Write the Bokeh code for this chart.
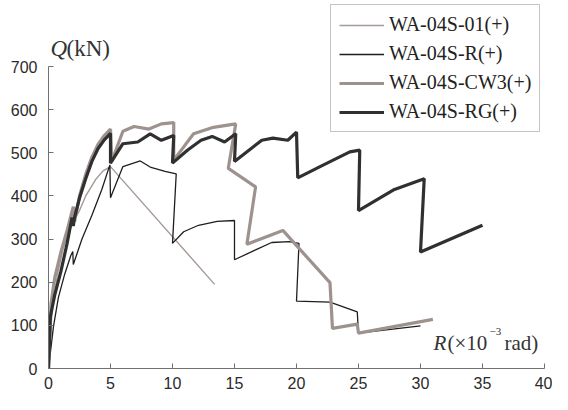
from bokeh.plotting import figure
from bokeh.models import Label, Legend, LegendItem, FixedTicker
from bokeh.embed import file_html
from bokeh.resources import INLINE

# ---- data (R in 1e-3 rad, Q in kN) ----
x_01 = [0, 0.3, 0.7, 1.2, 1.8, 2.5, 3.0, 3.8, 4.4, 5.0, 13.4]
y_01 = [0, 140, 215, 280, 330, 366, 400, 438, 458, 468, 195]

x_r = [0, 0.4, 0.8, 1.3, 1.8, 1.96, 2.0, 2.7, 3.5, 4.3, 4.95, 5.0, 6.0, 7.4, 8.2, 9.4, 10.3, 10.0,
       10.9, 12.1, 13.6, 15.0, 15.0, 16.7, 18.0, 19.4, 20.2, 20.0, 22.7, 24.9, 25.0, 30.0]
y_r = [0, 97, 165, 218, 262, 271, 241, 300, 355, 415, 472, 396, 468, 481, 467, 457, 451, 290,
       317, 332, 341, 343, 252, 275, 292, 294, 290, 156, 154, 131, 82, 99]

x_cw3 = [0, 0.2, 0.5, 1.0, 1.5, 2.0, 2.1, 2.5, 3.0, 3.5, 4.0, 4.5, 5.0, 5.1, 6.0, 6.9, 8.1, 9.1,
         10.1, 10.1, 11.7, 13.3, 15.1, 14.5, 16.7, 16.0, 18.9, 22.7, 22.9, 24.9, 25.0, 31.0]
y_cw3 = [0, 150, 210, 270, 320, 375, 340, 400, 450, 490, 520, 540, 555, 480, 550, 561, 555, 567,
         570, 483, 544, 559, 567, 464, 421, 288, 320, 199, 93, 103, 82, 114]

x_rg = [0, 0.15, 0.5, 1.0, 1.5, 1.9, 2.0, 2.1, 2.5, 3.0, 3.5, 4.0, 4.5, 5.0, 5.0, 6.0, 7.2, 8.2,
        9.1, 10.1, 10.0, 11.2, 12.3, 13.2, 14.2, 15.1, 15.0, 17.2, 18.1, 19.3, 20.0, 20.1, 21.9,
        24.3, 25.1, 25.0, 27.9, 30.3, 30.0, 35.0]
y_rg = [0, 120, 170, 225, 290, 350, 330, 350, 395, 440, 480, 510, 530, 545, 476, 521, 525, 544,
        529, 540, 476, 506, 529, 538, 525, 544, 480, 529, 534, 529, 548, 442, 468, 502, 506, 366,
        415, 440, 270, 332]

series_names = ["WA-04S-01(+)", "WA-04S-R(+)", "WA-04S-CW3(+)", "WA-04S-RG(+)"]
x_ticks = [0, 5, 10, 15, 20, 25, 30, 35, 40]
y_ticks = [0, 100, 200, 300, 400, 500, 600, 700]
x_axis_span = (0, 40)
y_axis_span = (0, 700)

W, H = 552, 394
LEFT, BOTTOM = 48, 26
X40_PX, Y700_PX = 544, 66          # where the axis ends should fall
frame_w = W - LEFT
frame_h = H - BOTTOM
x_end = x_axis_span[1] * frame_w / (X40_PX - LEFT)
y_end = y_axis_span[1] * frame_h / (frame_h - Y700_PX)

p = figure(width=W, height=H, x_range=(0, x_end), y_range=(0, y_end),
           output_backend="svg", toolbar_location=None,
           min_border_left=LEFT, min_border_right=0, min_border_top=0, min_border_bottom=BOTTOM)
p.outline_line_color = None
p.grid.visible = False
p.background_fill_color = "white"

for ax in (p.xaxis[0], p.yaxis[0]):
    ax.major_tick_in = 5
    ax.major_tick_out = 0
    ax.minor_tick_in = 0
    ax.minor_tick_out = 0
    ax.axis_line_color = "#707070"
    ax.major_tick_line_color = "#707070"
    ax.major_label_text_font = "Liberation Sans"
    ax.major_label_text_font_size = "16px"
    ax.major_label_text_color = "#2a2a2a"
p.xaxis.ticker = FixedTicker(ticks=x_ticks)
p.yaxis.ticker = FixedTicker(ticks=y_ticks)
p.xaxis.bounds = x_axis_span
p.yaxis.bounds = y_axis_span
p.yaxis.major_label_standoff = 11
p.xaxis.major_label_standoff = 8

r1 = p.line(x_01, y_01, line_color="#a59a96", line_width=1.4)
r2 = p.line(x_r, y_r, line_color="#1e1e1e", line_width=1.3)
r3 = p.line(x_cw3, y_cw3, line_color="#9e928e", line_width=3.2)
r4 = p.line(x_rg, y_rg, line_color="#303030", line_width=3.2)

legend = Legend(items=[LegendItem(label=series_names[i], renderers=[r])
                       for i, r in enumerate([r1, r2, r3, r4])],
                location=(282, 236))
legend.label_text_font = "Liberation Serif"
legend.label_text_font_size = "20px"
legend.label_text_color = "#222222"
legend.glyph_width = 45
legend.glyph_height = 22
legend.label_height = 22
legend.spacing = 6
legend.padding = 8
legend.margin = 0
legend.label_standoff = 5
legend.border_line_color = "#8a8a8a"
legend.border_line_width = 1
legend.background_fill_alpha = 1
p.add_layout(legend, "center")

# y-axis title, top-left (kept inside the frame so it is not clipped)
QY = frame_h - 48
p.add_layout(Label(x=2, y=QY, x_units="screen", y_units="screen", text="Q",
                   text_font="Liberation Serif", text_font_style="italic",
                   text_baseline="alphabetic",
                   text_font_size="23px", text_color="#333333"))
p.add_layout(Label(x=18, y=QY, x_units="screen", y_units="screen", text="(kN)",
                   text_font="Liberation Serif", text_baseline="alphabetic",
                   text_font_size="23px", text_color="#333333"))

# x-axis title, bottom-right (inside frame)
rx, ry = 385, 26
p.add_layout(Label(x=rx, y=ry, x_units="screen", y_units="screen", text="R",
                   text_font="Liberation Serif", text_font_style="italic",
                   text_baseline="alphabetic",
                   text_font_size="21px", text_color="#333333"))
p.add_layout(Label(x=rx + 14, y=ry, x_units="screen", y_units="screen", text="(\u00d710",
                   text_font="Liberation Serif", text_baseline="alphabetic",
                   text_font_size="21px", text_color="#333333"))
p.add_layout(Label(x=rx + 56, y=ry + 11, x_units="screen", y_units="screen", text="\u22123",
                   text_font="Liberation Serif", text_baseline="alphabetic",
                   text_font_size="11px", text_color="#333333"))
p.add_layout(Label(x=rx + 71, y=ry, x_units="screen", y_units="screen", text="rad)",
                   text_font="Liberation Serif", text_baseline="alphabetic",
                   text_font_size="21px", text_color="#333333"))

open("out.html", "w").write(file_html(p, INLINE))
